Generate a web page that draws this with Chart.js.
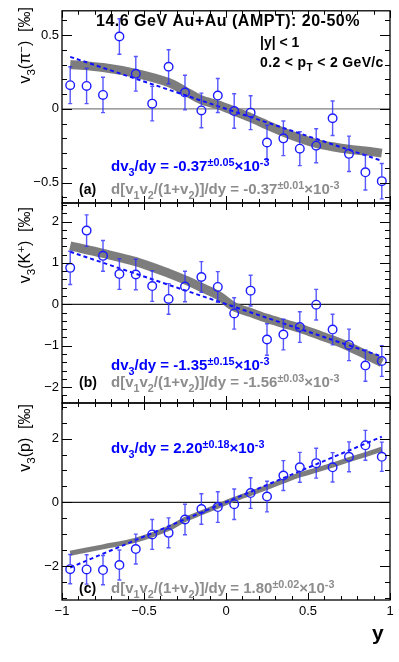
<!DOCTYPE html>
<html><head><meta charset="utf-8">
<script src="https://cdn.jsdelivr.net/npm/chart.js@4/dist/chart.umd.min.js"></script>
<style>
body{margin:0;background:#fff;}
#wrap{position:relative;width:399px;height:662px;overflow:hidden;}
canvas{position:absolute;left:0;top:0;}
</style></head>
<body><div id="wrap">
<canvas id="cc" width="399" height="662"></canvas>
<canvas id="cb" width="399" height="662"></canvas>
<canvas id="ca" width="399" height="662"></canvas>
</div>
<script>
// ---------- data ----------
const rapidity = [-0.95,-0.85,-0.75,-0.65,-0.55,-0.45,-0.35,-0.25,-0.15,-0.05,0.05,0.15,0.25,0.35,0.45,0.55,0.65,0.75,0.85,0.95];
const v3Pion   = [0.16,0.155,0.094,0.49,0.237,0.035,0.285,0.11,-0.011,0.09,-0.015,-0.026,-0.228,-0.2,-0.27,-0.25,-0.064,-0.305,-0.43,-0.49];
const errPion  = [0.125,0.12,0.12,0.12,0.117,0.117,0.115,0.117,0.117,0.115,0.117,0.115,0.117,0.117,0.115,0.115,0.117,0.12,0.12,0.12];
const v3Kaon   = [0.88,1.78,1.17,0.73,0.72,0.44,0.13,0.43,0.66,0.42,-0.22,0.33,-0.85,-0.73,-0.55,-0.01,-0.61,-0.98,-1.48,-1.37];
const errKaon  = [0.40,0.38,0.37,0.37,0.37,0.37,0.37,0.37,0.37,0.37,0.38,0.37,0.38,0.37,0.37,0.37,0.37,0.38,0.38,0.37];
const v3Proton = [-2.10,-2.11,-2.13,-1.97,-1.47,-1.01,-0.96,-0.54,-0.21,-0.15,-0.06,0.29,0.18,0.84,1.10,1.23,1.10,1.43,1.79,1.43];
const errProton= [0.46,0.46,0.46,0.47,0.47,0.47,0.47,0.48,0.48,0.48,0.48,0.48,0.48,0.47,0.47,0.47,0.46,0.47,0.47,0.46];

const bandRap    = [-0.95,-0.75,-0.55,-0.35,-0.25,-0.15,-0.05,0.05,0.15,0.25,0.35,0.45,0.55,0.65,0.75,0.85,0.95];
const bandPion   = [0.30,0.28,0.24,0.178,0.12,0.06,0.028,-0.015,-0.06,-0.11,-0.158,-0.20,-0.235,-0.257,-0.274,-0.285,-0.30];
const bandKaon   = [1.41,1.23,1.03,0.75,0.59,0.41,0.22,-0.06,-0.20,-0.34,-0.46,-0.58,-0.72,-0.86,-1.02,-1.21,-1.41];
const bandProton = [-1.60,-1.40,-1.19,-0.82,-0.54,-0.33,-0.12,0.09,0.28,0.47,0.67,0.86,1.01,1.17,1.34,1.50,1.67];

const fitRap    = [-0.95, 0.95];
const fitPion   = [0.352, -0.352];
const fitKaon   = [1.27, -1.26];
const fitProton = [-2.05, 2.06];

const xTicks     = [-1, -0.5, 0, 0.5, 1];
const yTicksPion = [-0.5, 0, 0.5];
const yTicksKaon = [-2, -1, 0, 1, 2];
const yTicksProton = [-2, 0, 2];

// ---------- helpers ----------
const FONT = '"Liberation Sans", Arial, Helvetica, sans-serif';
Chart.defaults.font.family = FONT;
Chart.defaults.color = '#000';

function fmt(v){ return (v < 0 ? '\u2212' : '') + String(Math.abs(v)); }

function richWidth(ctx, parts, size, weight, ls){
  let w = 0;
  ctx.letterSpacing = (ls || 0) + 'px';
  for (const [t, m] of parts){
    const s = m ? size*0.72 : size;
    ctx.font = `${weight} ${s}px ${FONT}`;
    w += ctx.measureText(t).width;
  }
  ctx.letterSpacing = '0px';
  return w;
}
function drawRich(ctx, x, y, parts, size, weight, color, ls){
  let cx = x;
  ctx.fillStyle = color;
  ctx.textBaseline = 'alphabetic';
  ctx.textAlign = 'left';
  ctx.letterSpacing = (ls || 0) + 'px';
  for (const [t, m] of parts){
    const s = m ? size*0.72 : size;
    ctx.font = `${weight} ${s}px ${FONT}`;
    const dy = m === '_' ? size*0.34 : (m === '^' ? -size*0.32 : 0);
    ctx.fillText(t, cx, y + dy);
    cx += ctx.measureText(t).width;
  }
  ctx.letterSpacing = '0px';
}

function drawTickSet(ctx, scale, area, minor, major, horizontal, lenMaj, lenMin){
  const lo = scale.min, hi = scale.max;
  const n0 = Math.ceil(lo/minor - 1e-6), n1 = Math.floor(hi/minor + 1e-6);
  ctx.beginPath();
  for (let n = n0; n <= n1; n++){
    const v = n*minor;
    const isMaj = Math.abs(v/major - Math.round(v/major)) < 1e-6;
    const L = isMaj ? lenMaj : lenMin;
    const p = Math.round(scale.getPixelForValue(v)) + 0.5;
    if (horizontal){
      ctx.moveTo(p, area.bottom); ctx.lineTo(p, area.bottom - L);
      ctx.moveTo(p, area.top); ctx.lineTo(p, area.top + L);
    } else {
      ctx.moveTo(area.left, p); ctx.lineTo(area.left + L, p);
      ctx.moveTo(area.right, p); ctx.lineTo(area.right - L, p);
    }
  }
  ctx.stroke();
}

const panelPlugin = {
  id: 'panel',
  beforeDatasetDraw(chart, args, opts){
    if (args.index !== 0) return;
    const ds = chart.data.datasets[0];
    const xs = chart.scales.x, ys = chart.scales.y, a = chart.chartArea;
    const ctx = chart.ctx;
    ctx.save();
    ctx.beginPath(); ctx.rect(a.left, a.top, a.right-a.left, a.bottom-a.top); ctx.clip();
    ctx.strokeStyle = 'rgba(45,45,255,0.8)'; ctx.lineWidth = 1.4;
    ds.data.forEach((p, i) => {
      const e = ds.errors[i];
      const px = xs.getPixelForValue(p.x), py = ys.getPixelForValue(p.y);
      const top = ys.getPixelForValue(p.y + e), bot = ys.getPixelForValue(p.y - e);
      const r = 4.6;
      ctx.beginPath();
      ctx.moveTo(px, top); ctx.lineTo(px, py - r);
      ctx.moveTo(px, py + r); ctx.lineTo(px, bot);
      ctx.moveTo(px-2, top); ctx.lineTo(px+2, top);
      ctx.moveTo(px-2, bot); ctx.lineTo(px+2, bot);
      ctx.stroke();
    });
    ctx.restore();
  },
  afterDraw(chart, args, opts){
    const ctx = chart.ctx, a = chart.chartArea;
    ctx.save();
    ctx.strokeStyle = '#000'; ctx.lineWidth = 1;
    drawTickSet(ctx, chart.scales.x, a, 0.1, 0.5, true, 7, 4);
    drawTickSet(ctx, chart.scales.y, a, opts.yMinor, opts.yMajor, false, 10, 5);
    ctx.lineWidth = 1.3;
    ctx.strokeRect(a.left, a.top, a.right - a.left, a.bottom - a.top);
    // y-axis title (rotated)
    ctx.save();
    ctx.translate(30, opts.titleEnd);
    ctx.rotate(-Math.PI/2);
    const w = richWidth(ctx, opts.yTitle, 16, 'normal', 0);
    drawRich(ctx, -w, 0, opts.yTitle, 16, 'normal', '#000', 0);
    ctx.restore();
    for (const t of opts.texts){
      drawRich(ctx, t.x, t.y, t.parts, t.size, 'bold', t.color, t.ls || 0);
    }
    ctx.restore();
  }
};

function makePanel(id, cfg){
  const datasets = [
    { data: rapidity.map((x,i)=>({x, y: cfg.values[i]})), errors: cfg.errors,
      showLine: false, pointStyle: 'circle', pointRadius: 4.3, pointBorderWidth: 1.4,
      pointBorderColor: '#1c1cff', pointBackgroundColor: 'rgba(0,0,0,0)', borderColor: '#1c1cff' },
    { data: fitRap.map((x,i)=>({x, y: cfg.fit[i]})), borderColor: '#1010ff', borderWidth: 2,
      borderDash: [4,3], pointRadius: 0, fill: false },
    { data: bandRap.map((x,i)=>({x, y: cfg.band[i]})), borderColor: 'rgba(118,118,118,0.95)',
      borderWidth: cfg.bandWidth, pointRadius: 0, fill: false, tension: 0.3, borderCapStyle: 'butt' },
    { data: [{x:-1, y:0},{x:1, y:0}], borderColor: cfg.zeroColor, borderWidth: 1.2, pointRadius: 0, fill: false }
  ];
  return new Chart(document.getElementById(id), {
    type: 'line',
    data: { datasets },
    options: {
      responsive: false, animation: false, devicePixelRatio: 1,
      layout: { padding: { top: cfg.top, bottom: cfg.showX ? 0 : 662 - cfg.bottom, left: 0, right: 9 } },
      plugins: { legend: {display:false}, tooltip: {enabled:false},
        panel: { yMinor: cfg.yMinor, yMajor: cfg.yMajor, yTitle: cfg.yTitle, titleEnd: cfg.titleEnd, texts: cfg.texts } },
      scales: {
        x: { type: 'linear', min: -1, max: 1, display: cfg.showX,
             grid: {display:false, drawTicks:false}, border: {display:false},
             afterFit: s => { s.height = cfg.showX ? 62 : 0; },
             afterBuildTicks: s => { s.ticks = xTicks.map(v=>({value:v})); },
             ticks: { autoSkip:false, maxRotation:0, padding: 4, font: {size:13}, color:'#000', callback: v => fmt(v) } },
        y: { type: 'linear', min: cfg.ymin, max: cfg.ymax,
             grid: {display:false, drawTicks:false}, border: {display:false},
             afterFit: s => { s.width = 62; },
             afterBuildTicks: s => { s.ticks = cfg.yTicks.map(v=>({value:v})); },
             ticks: { autoSkip:false, padding: 3, font: {size:13}, color:'#000', callback: v => fmt(v) } }
      }
    },
    plugins: [panelPlugin]
  });
}

const BLUE = '#0000ff', GRAY = '#8c8c8c';

makePanel('ca', {
  values: v3Pion, errors: errPion, band: bandPion, fit: fitPion, bandWidth: 9,
  top: 5, bottom: 203, ymin: -0.638, ymax: 0.664, yTicks: yTicksPion, yMinor: 0.1, yMajor: 0.5,
  zeroColor: '#808080', showX: false, titleEnd: 7,
  yTitle: [['v'],['3','_'],['('],['\u03c0'],['\u2212','^'],[')  ['],['\u2030'],[']']],
  texts: [
    {x: 96, y: 26, size: 16, ls: 0.5, color: '#000', parts: [['14.6 GeV Au+Au (AMPT): 20-50%']]},
    {x: 260, y: 46.5, size: 14, color: '#000', parts: [['|y| < 1']]},
    {x: 260, y: 66.5, size: 14, ls: 0.35, color: '#000', parts: [['0.2 < p'],['T','_'],[' < 2 GeV/c']]},
    {x: 111, y: 170.5, size: 15, color: BLUE, parts: [['dv'],['3','_'],['/dy = -0.37'],['\u00b10.05','^'],['\u00d710'],['-3','^']]},
    {x: 79, y: 194, size: 14, color: '#000', parts: [['(a)']]},
    {x: 111, y: 194, size: 15, color: GRAY, parts: [['d[v'],['1','_'],['v'],['2','_'],['/(1+v'],['2','_'],[')]/dy = -0.37'],['\u00b10.01','^'],['\u00d710'],['-3','^']]}
  ]
});

makePanel('cb', {
  values: v3Kaon, errors: errKaon, band: bandKaon, fit: fitKaon, bandWidth: 9,
  top: 203, bottom: 403, ymin: -2.384, ymax: 2.447, yTicks: yTicksKaon, yMinor: 0.2, yMajor: 1,
  zeroColor: '#202020', showX: false, titleEnd: 207,
  yTitle: [['v'],['3','_'],['(K'],['+','^'],[')  ['],['\u2030'],[']']],
  texts: [
    {x: 111, y: 369.5, size: 15, color: BLUE, parts: [['dv'],['3','_'],['/dy = -1.35'],['\u00b10.15','^'],['\u00d710'],['-3','^']]},
    {x: 79, y: 387, size: 14, color: '#000', parts: [['(b)']]},
    {x: 111, y: 387, size: 15, color: GRAY, parts: [['d[v'],['1','_'],['v'],['2','_'],['/(1+v'],['2','_'],[')]/dy = -1.56'],['\u00b10.03','^'],['\u00d710'],['-3','^']]}
  ]
});

makePanel('cc', {
  values: v3Proton, errors: errProton, band: bandProton, fit: fitProton, bandWidth: 5,
  top: 403, bottom: 600, ymin: -3.07, ymax: 3.12, yTicks: yTicksProton, yMinor: 0.5, yMajor: 2,
  zeroColor: '#202020', showX: true, titleEnd: 404,
  yTitle: [['v'],['3','_'],['(p)  ['],['\u2030'],[']']],
  texts: [
    {x: 111, y: 453, size: 15, color: BLUE, parts: [['dv'],['3','_'],['/dy = 2.20'],['\u00b10.18','^'],['\u00d710'],['-3','^']]},
    {x: 79, y: 592.5, size: 14, color: '#000', parts: [['(c)']]},
    {x: 111, y: 592.5, size: 15, color: GRAY, parts: [['d[v'],['1','_'],['v'],['2','_'],['/(1+v'],['2','_'],[')]/dy = 1.80'],['\u00b10.02','^'],['\u00d710'],['-3','^']]},
    {x: 372, y: 640, size: 21, color: '#000', parts: [['y']]}
  ]
});
</script>
</body></html>
